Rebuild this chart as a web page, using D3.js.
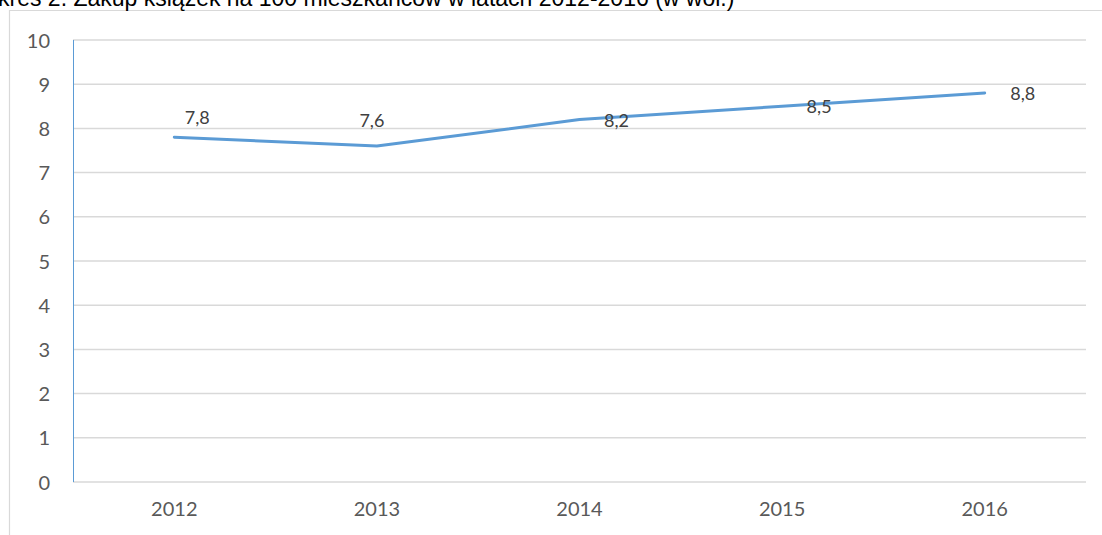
<!DOCTYPE html>
<html>
<head>
<meta charset="utf-8">
<script src="https://cdn.jsdelivr.net/npm/d3@7"></script>
<style>
  body { margin: 0; background: #fff; overflow: hidden; }
  svg { display: block; }
  .tick text { font-family: Lato, "Open Sans", sans-serif; fill: #595959; }
</style>
</head>
<body>
<svg id="chart"></svg>
<script>
const title = 'kres 2. Zakup książek na 100 mieszkańców w latach 2012-2016 (w wol.)';
const years = ['2012', '2013', '2014', '2015', '2016'];
const values = [7.8, 7.6, 8.2, 8.5, 8.8];
const labels = ['7,8', '7,6', '8,2', '8,5', '8,8'];
const yTicks = [0, 1, 2, 3, 4, 5, 6, 7, 8, 9, 10];

const W = 1102, H = 535;
const margin = { left: 73, right: 16, top: 40, bottom: 53 };

const svg = d3.select('#chart').attr('width', W).attr('height', H);

// chart frame (cropped, only top + left visible)
svg.append('path')
  .attr('d', `M9.5,${H} V10.5 H${W}`)
  .attr('fill', 'none')
  .attr('stroke', '#d9d9d9')
  .attr('stroke-width', 1.2);

// title, cut by the top edge like in the source
svg.append('text')
  .attr('x', -2)
  .attr('y', 6)
  .attr('font-family', '"Liberation Sans", Arial, sans-serif')
  .attr('font-size', 23)
  .attr('fill', '#000')
  .text(title);

const x = d3.scaleBand()
  .domain(years)
  .range([margin.left, W - margin.right]);

const y = d3.scaleLinear()
  .domain([0, 10])
  .range([H - margin.bottom, margin.top]);

// gridlines
svg.append('g')
  .selectAll('line')
  .data(yTicks)
  .join('line')
  .attr('x1', margin.left)
  .attr('x2', W - margin.right)
  .attr('y1', d => y(d))
  .attr('y2', d => y(d))
  .attr('stroke', '#d9d9d9')
  .attr('stroke-width', 1.5);

// y axis
const yAxis = svg.append('g')
  .attr('transform', `translate(${margin.left},0)`)
  .call(d3.axisLeft(y).tickValues(yTicks).tickSize(0).tickPadding(23));
yAxis.select('.domain').remove();
yAxis.selectAll('.tick text').attr('font-size', 20).attr('dy', '0.35em');

// blue vertical axis line
svg.append('line')
  .attr('x1', margin.left + 0.5)
  .attr('x2', margin.left + 0.5)
  .attr('y1', y(10))
  .attr('y2', y(0))
  .attr('stroke', '#5b9bd5')
  .attr('stroke-width', 1);

// x axis
const xAxis = svg.append('g')
  .attr('transform', `translate(0,${y(0)})`)
  .call(d3.axisBottom(x).tickSize(0).tickPadding(20));
xAxis.select('.domain').remove();
xAxis.selectAll('.tick text').attr('font-size', 20);

// line
const line = d3.line()
  .x((d, i) => x(years[i]) + x.bandwidth() / 2)
  .y(d => y(d));

svg.append('path')
  .datum(values)
  .attr('d', line)
  .attr('fill', 'none')
  .attr('stroke', '#5b9bd5')
  .attr('stroke-width', 3)
  .attr('stroke-linecap', 'round')
  .attr('stroke-linejoin', 'round');

// data labels (offset to the right like in the original)
svg.append('g')
  .selectAll('text')
  .data(values)
  .join('text')
  .attr('x', (d, i) => x(years[i]) + x.bandwidth() / 2 + [23, -5, 37, 37, 38][i])
  .attr('y', (d, i) => y(d) + [-13, -19, 7, 7, 7][i])
  .attr('text-anchor', 'middle')
  .attr('font-family', 'Lato, "Open Sans", sans-serif')
  .attr('font-size', 18)
  .attr('fill', '#404040')
  .text((d, i) => labels[i]);
</script>
</body>
</html>
